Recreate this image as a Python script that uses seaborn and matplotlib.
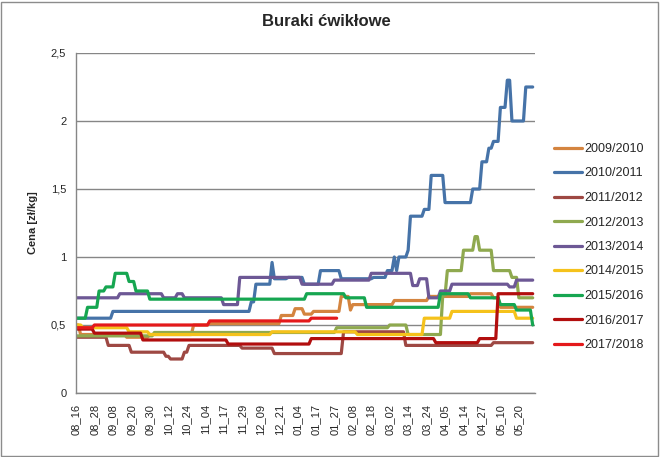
import numpy as np
import pandas as pd
import seaborn as sns
import matplotlib
matplotlib.use('Agg')
import matplotlib.pyplot as plt
from matplotlib.lines import Line2D
from matplotlib.patches import Rectangle

'''dane odczytane z wykresu: (cena, liczba notowan)'''
etykiety_x = ['08_16', '08_28', '09_08', '09_20', '09_30', '10_12', '10_24', '11_04',
              '11_17', '11_29', '12_09', '12_21', '01_04', '01_17', '01_27', '02_08',
              '02_18', '03_02', '03_14', '03_24', '04_05', '04_14', '04_27', '05_10', '05_20']
co_ile = 8  # notowan miedzy etykietami
n_pkt = 199

s2009 = [(0.50, 2), (0.43, 20), (0.41, 10), (0.43, 19), (0.50, 7), (0.51, 31), (0.57, 6),
         (0.62, 4), (0.58, 4), (0.60, 12), (0.71, 4), (0.61, 1), (0.65, 18), (0.68, 15),
         (0.71, 18), (0.73, 10), (0.70, 3), (0.63, 15)]
s2010 = [(0.55, 16), (0.60, 60), (0.67, 2), (0.80, 7), (0.96, 1), (0.84, 6), (0.85, 7),
         (0.80, 7), (0.90, 9), (0.84, 14), (0.85, 6), (0.90, 3), (1.00, 1), (0.90, 1),
         (1.00, 4), (1.05, 1), (1.30, 6), (1.35, 3), (1.60, 6), (1.40, 12), (1.50, 4),
         (1.70, 3), (1.80, 2), (1.85, 3), (2.10, 3), (2.30, 2), (2.00, 6), (2.25, 4)]
s2011 = [(0.41, 14), (0.35, 10), (0.30, 15), (0.27, 2), (0.25, 6), (0.30, 2), (0.35, 23),
         (0.33, 14), (0.29, 30), (0.45, 27), (0.35, 38), (0.37, 18)]
s2012 = [(0.42, 34), (0.445, 79), (0.48, 23), (0.50, 8), (0.43, 15), (0.72, 2), (0.90, 7),
         (1.05, 5), (1.15, 2), (1.05, 6), (0.90, 8), (0.85, 3), (0.70, 7)]
s2013 = [(0.70, 19), (0.73, 19), (0.70, 6), (0.73, 3), (0.70, 17), (0.65, 7), (0.85, 27),
         (0.80, 14), (0.83, 16), (0.88, 18), (0.79, 3), (0.84, 4), (0.70, 5), (0.75, 5),
         (0.80, 25), (0.78, 3), (0.83, 8)]
s2014 = [(0.50, 3), (0.48, 20), (0.45, 9), (0.43, 53), (0.45, 37), (0.43, 29), (0.55, 12),
         (0.60, 28), (0.55, 8)]
s2015 = [(0.55, 5), (0.63, 5), (0.75, 3), (0.78, 4), (0.88, 6), (0.82, 3), (0.75, 6),
         (0.69, 68), (0.73, 17), (0.70, 9), (0.63, 32), (0.73, 13), (0.70, 13), (0.65, 7),
         (0.61, 7), (0.50, 1)]
s2016 = [(0.47, 8), (0.44, 21), (0.39, 37), (0.36, 36), (0.40, 54), (0.37, 19), (0.40, 8),
         (0.73, 16)]
s2017 = [(0.48, 8), (0.50, 50), (0.53, 44), (0.55, 12)]

sezony = ['2009/2010', '2010/2011', '2011/2012', '2012/2013', '2013/2014',
          '2014/2015', '2015/2016', '2016/2017', '2017/2018']
serie = [s2009, s2010, s2011, s2012, s2013, s2014, s2015, s2016, s2017]
kolory = ['#D4843F', '#4673A8', '#9E4843', '#8FA94F', '#6D5895',
          '#F5C21B', '#16A651', '#B20E0E', '#E4191B']


def rozwin(seg):
    y = np.repeat([v for v, n in seg], [n for v, n in seg]).astype(float)
    out = np.full(n_pkt, np.nan)
    out[:len(y)] = y
    return out


rows = []
for sez, seg in zip(sezony, serie):
    y = rozwin(seg)
    for i in range(n_pkt):
        rows.append((sez, i, y[i]))
df = pd.DataFrame(rows, columns=['sezon', 'idx', 'cena']).dropna()

sns.set_style('white')
plt.rcParams['font.family'] = ['Liberation Sans', 'DejaVu Sans']

fig = plt.figure(figsize=(6.6, 4.57), dpi=100)
ax = fig.add_axes([76 / 660, 1 - 393 / 457, 459 / 660, 340 / 457])

sns.lineplot(data=df, x='idx', y='cena', hue='sezon', hue_order=sezony,
             palette=dict(zip(sezony, kolory)), linewidth=2.3, legend=False,
             estimator=None, ax=ax, solid_joinstyle='round', solid_capstyle='round')

ax.set_xlim(0, n_pkt)
ax.set_ylim(0, 2.5)
ax.set_yticks(np.arange(0, 2.51, 0.5))
ax.set_yticklabels(['0', '0,5', '1', '1,5', '2', '2,5'], fontsize=8)
ax.set_xticks(np.arange(len(etykiety_x)) * co_ile)
ax.set_xticklabels(etykiety_x, rotation=90, fontsize=8)
ax.tick_params(axis='both', length=0)
ax.tick_params(axis='y', pad=7)
ax.tick_params(axis='x', pad=8)
ax.set_xlabel('')
ax.set_ylabel('')
ax.yaxis.grid(True, color='#868686', linewidth=1)
ax.set_axisbelow(True)
for s in ['top', 'right']:
    ax.spines[s].set_visible(False)
for s in ['left', 'bottom']:
    ax.spines[s].set_color('#868686')
    ax.spines[s].set_linewidth(1)

fig.text(0.495, 1 - 22 / 457, 'Buraki ćwikłowe', ha='center', va='center',
         fontsize=12, fontweight='bold')
fig.text(33 / 660, 1 - 223 / 457, 'Cena [zł/kg]', ha='center', va='center',
         rotation=90, fontsize=8, fontweight='bold')

uchwyty = [Line2D([0], [0], color=k, lw=2.3) for k in kolory]
fig.legend(uchwyty, sezony, loc='upper left', bbox_to_anchor=(554 / 660, 1 - 143 / 457),
           frameon=False, fontsize=9, borderpad=0, borderaxespad=0,
           handlelength=2.2, handletextpad=0.2, labelspacing=1.0)

fig.patches.append(Rectangle((1 / 660, 1 / 457), 657 / 660, 454 / 457, transform=fig.transFigure,
                             fill=False, edgecolor='#8c8c8c', linewidth=1))

plt.savefig('out.png', dpi=100)
